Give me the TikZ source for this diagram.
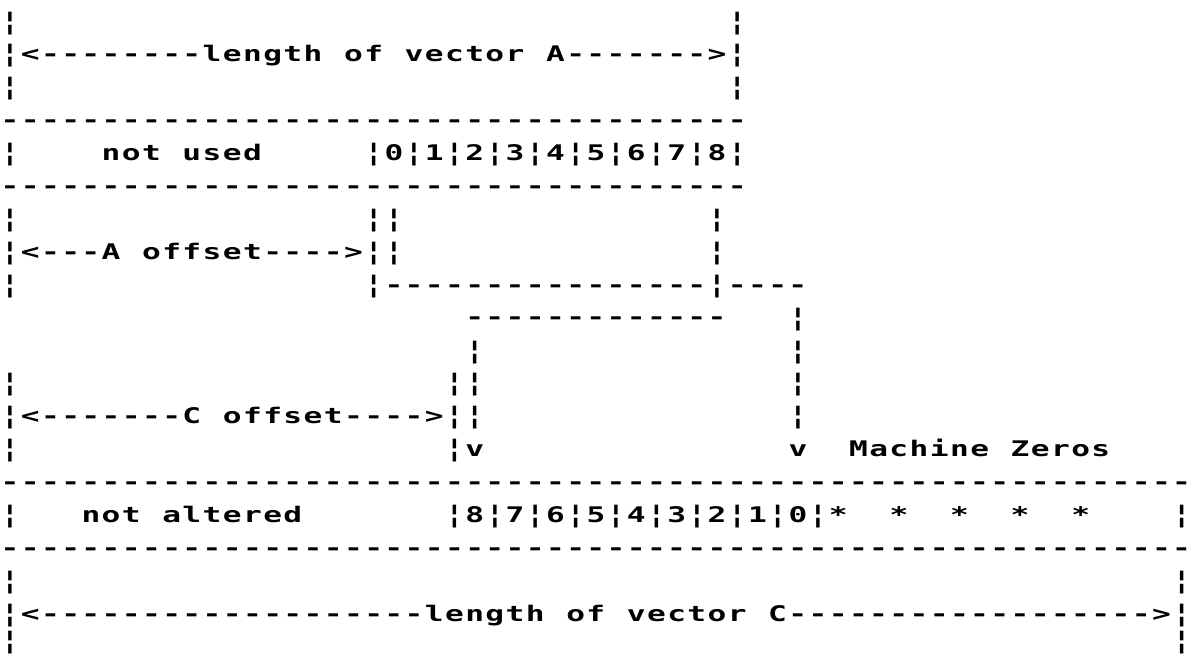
\documentclass[tikz,border=0pt]{standalone}
\usepackage{fontspec}
\newfontfamily\dmfont[Ligatures=TeXOff,FakeStretch=1.45]{DejaVu Sans Mono}
\newlength\cellw
\setlength\cellw{20.2pt}
\newcommand\bbar{\raisebox{-1.2pt}{\scalebox{1}[1.22]{¦}}}
\ExplSyntaxOn
\NewExpandableDocumentCommand\dashrun{m}{\prg_replicate:nn{#1}{-}}
\str_new:N \l_myrow_str
\NewDocumentCommand\mono{m}{
  \str_set:Nx \l_myrow_str {#1}
  \str_map_inline:Nn \l_myrow_str
    {\str_if_eq:nnTF {##1}{¦}
       {\makebox[\cellw][c]{\bbar}}
       {\makebox[\cellw][c]{##1}}}
}
\ExplSyntaxOff
\tikzset{
  txt/.style={inner sep=0pt, outer sep=0pt, anchor=base west,
    font=\dmfont\bfseries\fontsize{21.5pt}{24pt}\selectfont}
}
\begin{document}
\begin{tikzpicture}[x=1pt,y=-1pt]
\fill[white] (0,0) rectangle (1192,656);
\useasboundingbox (0,0) rectangle (1192,656);
% row 1
\node[txt] (r1a) at ({20.2*0},28.8) {\mono{¦}};
\node[txt] (r1b) at ({20.2*36},28.8) {\mono{¦}};
% row 2
\node[txt] (r2a) at ({20.2*0},61.7) {\mono{¦<\dashrun{8}length of vector A\dashrun{7}>¦}};
% row 3
\node[txt] (r3a) at ({20.2*0},94.6) {\mono{¦}};
\node[txt] (r3b) at ({20.2*36},94.6) {\mono{¦}};
% row 4
\node[txt] (r4a) at ({20.2*0},127.5) {\mono{\dashrun{37}}};
% row 5
\node[txt] (r5a) at ({20.2*0},160.4) {\mono{¦}};
\node[txt] (r5b) at ({20.2*5},160.4) {\mono{not used}};
\node[txt] (r5c) at ({20.2*18},160.4) {\mono{¦0¦1¦2¦3¦4¦5¦6¦7¦8¦}};
% row 6
\node[txt] (r6a) at ({20.2*0},193.3) {\mono{\dashrun{37}}};
% row 7
\node[txt] (r7a) at ({20.2*0},226.2) {\mono{¦}};
\node[txt] (r7b) at ({20.2*18},226.2) {\mono{¦¦}};
\node[txt] (r7c) at ({20.2*35},226.2) {\mono{¦}};
% row 8
\node[txt] (r8a) at ({20.2*0},259.1) {\mono{¦<\dashrun{3}A offset\dashrun{4}>¦¦}};
\node[txt] (r8b) at ({20.2*35},259.1) {\mono{¦}};
% row 9
\node[txt] (r9a) at ({20.2*0},292.0) {\mono{¦}};
\node[txt] (r9b) at ({20.2*18},292.0) {\mono{¦\dashrun{16}¦\dashrun{4}}};
% row 10
\node[txt] (r10a) at ({20.2*23},324.9) {\mono{\dashrun{13}}};
\node[txt] (r10b) at ({20.2*39},324.9) {\mono{¦}};
% row 11
\node[txt] (r11a) at ({20.2*23},357.8) {\mono{¦}};
\node[txt] (r11b) at ({20.2*39},357.8) {\mono{¦}};
% row 12
\node[txt] (r12a) at ({20.2*0},390.7) {\mono{¦}};
\node[txt] (r12b) at ({20.2*22},390.7) {\mono{¦¦}};
\node[txt] (r12c) at ({20.2*39},390.7) {\mono{¦}};
% row 13
\node[txt] (r13a) at ({20.2*0},423.6) {\mono{¦<\dashrun{7}C offset\dashrun{4}>¦¦}};
\node[txt] (r13b) at ({20.2*39},423.6) {\mono{¦}};
% row 14
\node[txt] (r14a) at ({20.2*0},456.5) {\mono{¦}};
\node[txt] (r14b) at ({20.2*22},456.5) {\mono{¦v}};
\node[txt] (r14c) at ({20.2*39},456.5) {\mono{v}};
\node[txt] (r14d) at ({20.2*42},456.5) {\mono{Machine Zeros}};
% row 15
\node[txt] (r15a) at ({20.2*0},489.4) {\mono{\dashrun{59}}};
% row 16
\node[txt] (r16a) at ({20.2*0},522.3) {\mono{¦}};
\node[txt] (r16b) at ({20.2*4},522.3) {\mono{not altered}};
\node[txt] (r16c) at ({20.2*22},522.3) {\mono{¦8¦7¦6¦5¦4¦3¦2¦1¦0¦*}};
\node[txt] (r16d) at ({20.2*44},522.3) {\mono{*}};
\node[txt] (r16e) at ({20.2*47},522.3) {\mono{*}};
\node[txt] (r16f) at ({20.2*50},522.3) {\mono{*}};
\node[txt] (r16g) at ({20.2*53},522.3) {\mono{*}};
\node[txt] (r16h) at ({20.2*58},522.3) {\mono{¦}};
% row 17
\node[txt] (r17a) at ({20.2*0},555.2) {\mono{\dashrun{59}}};
% row 18
\node[txt] (r18a) at ({20.2*0},588.1) {\mono{¦}};
\node[txt] (r18b) at ({20.2*58},588.1) {\mono{¦}};
% row 19
\node[txt] (r19a) at ({20.2*0},621.0) {\mono{¦<\dashrun{19}length of vector C\dashrun{18}>¦}};
% row 20
\node[txt] (r20a) at ({20.2*0},648.0) {\mono{¦}};
\node[txt] (r20b) at ({20.2*58},648.0) {\mono{¦}};
\end{tikzpicture}
\end{document}
